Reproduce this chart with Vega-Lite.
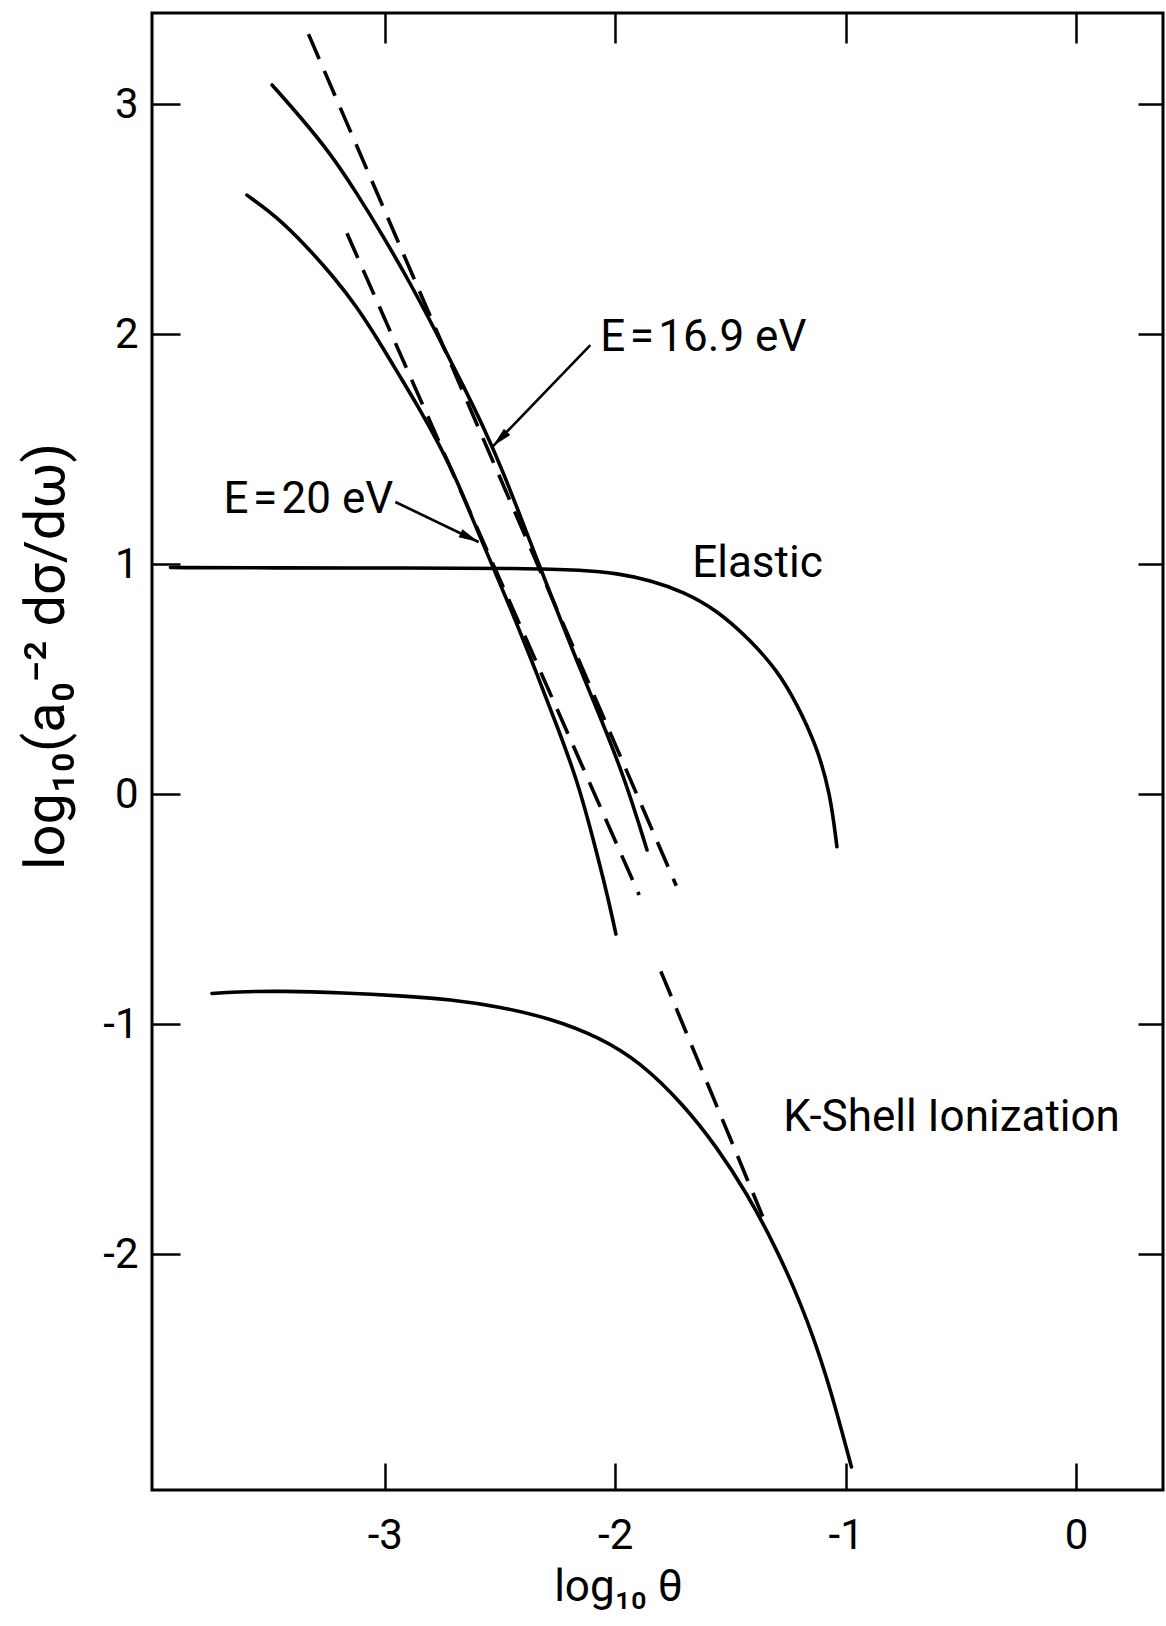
{
  "$schema": "https://vega.github.io/schema/vega-lite/v6.json",
  "width": 1011,
  "height": 1477,
  "autosize": {"type": "none"},
  "padding": {"left": 152, "top": 13, "right": 3, "bottom": 136},
  "background": "white",
  "config": {
    "view": {"stroke": "black", "strokeWidth": 3},
    "font": "Roboto, sans-serif",
    "axis": {
      "grid": false,
      "domain": false,
      "tickColor": "black",
      "tickWidth": 2.5,
      "labelColor": "black",
      "titleColor": "black",
      "labelFont": "Roboto, sans-serif",
      "titleFont": "Roboto, sans-serif",
      "titleFontWeight": "normal"
    }
  },
  "datasets": {
    "solid": [
      {"series": "elastic", "x": -3.93, "y": 0.985},
      {"series": "elastic", "x": -3.5, "y": 0.983},
      {"series": "elastic", "x": -2.9, "y": 0.983},
      {"series": "elastic", "x": -2.4, "y": 0.982},
      {"series": "elastic", "x": -2.138, "y": 0.974},
      {"series": "elastic", "x": -1.993, "y": 0.96},
      {"series": "elastic", "x": -1.848, "y": 0.93},
      {"series": "elastic", "x": -1.704, "y": 0.88},
      {"series": "elastic", "x": -1.559, "y": 0.8},
      {"series": "elastic", "x": -1.414, "y": 0.67},
      {"series": "elastic", "x": -1.298, "y": 0.539},
      {"series": "elastic", "x": -1.212, "y": 0.394},
      {"series": "elastic", "x": -1.125, "y": 0.206},
      {"series": "elastic", "x": -1.067, "y": 0.003},
      {"series": "elastic", "x": -1.038, "y": -0.229},
      {"series": "e169", "x": -3.489, "y": 3.083},
      {"series": "e169", "x": -3.367, "y": 2.945},
      {"series": "e169", "x": -3.236, "y": 2.786},
      {"series": "e169", "x": -3.121, "y": 2.612},
      {"series": "e169", "x": -3.005, "y": 2.423},
      {"series": "e169", "x": -2.889, "y": 2.22},
      {"series": "e169", "x": -2.774, "y": 2.003},
      {"series": "e169", "x": -2.672, "y": 1.8},
      {"series": "e169", "x": -2.571, "y": 1.597},
      {"series": "e169", "x": -2.482, "y": 1.39},
      {"series": "e169", "x": -2.405, "y": 1.19},
      {"series": "e169", "x": -2.33, "y": 0.997},
      {"series": "e169", "x": -2.224, "y": 0.723},
      {"series": "e169", "x": -2.138, "y": 0.509},
      {"series": "e169", "x": -2.036, "y": 0.265},
      {"series": "e169", "x": -1.949, "y": 0.037},
      {"series": "e169", "x": -1.862, "y": -0.243},
      {"series": "e20", "x": -3.598, "y": 2.604},
      {"series": "e20", "x": -3.468, "y": 2.51},
      {"series": "e20", "x": -3.338, "y": 2.38},
      {"series": "e20", "x": -3.222, "y": 2.249},
      {"series": "e20", "x": -3.121, "y": 2.119},
      {"series": "e20", "x": -3.02, "y": 1.96},
      {"series": "e20", "x": -2.933, "y": 1.814},
      {"series": "e20", "x": -2.846, "y": 1.67},
      {"series": "e20", "x": -2.759, "y": 1.51},
      {"series": "e20", "x": -2.687, "y": 1.365},
      {"series": "e20", "x": -2.6, "y": 1.149},
      {"series": "e20", "x": -2.528, "y": 0.982},
      {"series": "e20", "x": -2.426, "y": 0.738},
      {"series": "e20", "x": -2.34, "y": 0.524},
      {"series": "e20", "x": -2.253, "y": 0.296},
      {"series": "e20", "x": -2.166, "y": 0.067},
      {"series": "e20", "x": -2.079, "y": -0.258},
      {"series": "e20", "x": -2.029, "y": -0.461},
      {"series": "e20", "x": -1.997, "y": -0.609},
      {"series": "kshell", "x": -3.75, "y": -0.867},
      {"series": "kshell", "x": -3.656, "y": -0.86},
      {"series": "kshell", "x": -3.439, "y": -0.856},
      {"series": "kshell", "x": -3.179, "y": -0.864},
      {"series": "kshell", "x": -2.933, "y": -0.877},
      {"series": "kshell", "x": -2.716, "y": -0.893},
      {"series": "kshell", "x": -2.499, "y": -0.925},
      {"series": "kshell", "x": -2.282, "y": -0.975},
      {"series": "kshell", "x": -2.069, "y": -1.057},
      {"series": "kshell", "x": -1.892, "y": -1.165},
      {"series": "kshell", "x": -1.704, "y": -1.35},
      {"series": "kshell", "x": -1.559, "y": -1.535},
      {"series": "kshell", "x": -1.429, "y": -1.735},
      {"series": "kshell", "x": -1.313, "y": -1.952},
      {"series": "kshell", "x": -1.197, "y": -2.204},
      {"series": "kshell", "x": -1.082, "y": -2.524},
      {"series": "kshell", "x": -0.975, "y": -2.926}
    ],
    "dashed": [
      {"series": "bornA", "x": -3.331, "y": 3.304},
      {"series": "bornA", "x": -1.735, "y": -0.399},
      {"series": "bornB", "x": -3.164, "y": 2.438},
      {"series": "bornB", "x": -1.896, "y": -0.439},
      {"series": "bornK", "x": -1.802, "y": -0.771},
      {"series": "bornK", "x": -1.36, "y": -1.837}
    ],
    "arrows": [
      {"series": "a169", "x": -2.108, "y": 1.952},
      {"series": "a169", "x": -2.53, "y": 1.513},
      {"series": "a20", "x": -2.954, "y": 1.27},
      {"series": "a20", "x": -2.593, "y": 1.096}
    ],
    "tip169": [{"x": -2.53, "y": 1.513}],
    "tip20": [{"x": -2.593, "y": 1.096}],
    "labels": [
      {"label": "E\u200a=\u200a16.9 eV", "x": -2.065, "y": 1.985},
      {"label": "E\u200a=\u200a20 eV", "x": -3.70, "y": 1.28},
      {"label": "Elastic", "x": -1.666, "y": 1.0},
      {"label": "K-Shell Ionization", "x": -1.271, "y": -1.41}
    ]
  },
  "layer": [
    {
      "data": {"name": "solid"},
      "mark": {"type": "line", "color": "black", "strokeWidth": 3.6, "interpolate": "basis", "strokeCap": "round"},
      "encoding": {
        "x": {
          "field": "x", "type": "quantitative",
          "scale": {"domain": [-4.01, 0.377], "nice": false, "zero": false},
          "axis": {
            "orient": "bottom", "values": [-3, -2, -1, 0], "tickSize": -27,
            "labelPadding": 52, "labelFontSize": 42,
            "labelExpr": "datum.value < 0 ? '-' + abs(datum.value) : '' + datum.value",
            "title": "log₁₀ θ", "titleFontSize": 44,
            "titleX": 466, "titleY": 97, "titleAlign": "center", "titleBaseline": "middle"
          }
        },
        "y": {
          "field": "y", "type": "quantitative",
          "scale": {"domain": [-3.026, 3.396], "nice": false, "zero": false},
          "axis": {
            "orient": "left", "values": [-2, -1, 0, 1, 2, 3], "tickSize": -28,
            "labelPadding": 42, "labelFontSize": 42,
            "labelExpr": "datum.value < 0 ? '-' + abs(datum.value) : '' + datum.value",
            "title": "log₁₀(a₀⁻² dσ/dω)", "titleFontSize": 56,
            "titleX": -106, "titleY": 643, "titleAngle": -90, "titleAlign": "center", "titleBaseline": "middle"
          }
        },
        "detail": {"field": "series", "type": "nominal"}
      }
    },
    {
      "data": {"name": "dashed"},
      "mark": {"type": "line", "color": "black", "strokeWidth": 3.6, "strokeDash": [27, 13]},
      "encoding": {
        "x": {
          "field": "x", "type": "quantitative",
          "axis": {"orient": "top", "values": [-3, -2, -1, 0], "tickSize": -30, "labels": false, "title": null}
        },
        "y": {
          "field": "y", "type": "quantitative",
          "axis": {"orient": "right", "values": [-2, -1, 0, 1, 2, 3], "tickSize": -25, "labels": false, "title": null}
        },
        "detail": {"field": "series", "type": "nominal"}
      }
    },
    {
      "data": {"name": "arrows"},
      "mark": {"type": "line", "color": "black", "strokeWidth": 2.6},
      "encoding": {
        "x": {"field": "x", "type": "quantitative", "axis": null},
        "y": {"field": "y", "type": "quantitative", "axis": null},
        "detail": {"field": "series", "type": "nominal"}
      }
    },
    {
      "data": {"name": "tip169"},
      "mark": {"type": "point", "shape": "M0,0L-0.45,2L0.45,2Z", "filled": true, "color": "black", "opacity": 1, "size": 400, "angle": 224.5},
      "encoding": {
        "x": {"field": "x", "type": "quantitative", "axis": null},
        "y": {"field": "y", "type": "quantitative", "axis": null}
      }
    },
    {
      "data": {"name": "tip20"},
      "mark": {"type": "point", "shape": "M0,0L-0.45,2L0.45,2Z", "filled": true, "color": "black", "opacity": 1, "size": 400, "angle": 115.8},
      "encoding": {
        "x": {"field": "x", "type": "quantitative", "axis": null},
        "y": {"field": "y", "type": "quantitative", "axis": null}
      }
    },
    {
      "data": {"name": "labels"},
      "mark": {"type": "text", "align": "left", "baseline": "middle", "fontSize": 44, "color": "black"},
      "encoding": {
        "x": {"field": "x", "type": "quantitative", "axis": null},
        "y": {"field": "y", "type": "quantitative", "axis": null},
        "text": {"field": "label", "type": "nominal"}
      }
    }
  ],
  "resolve": {"axis": {"x": "independent", "y": "independent"}}
}
